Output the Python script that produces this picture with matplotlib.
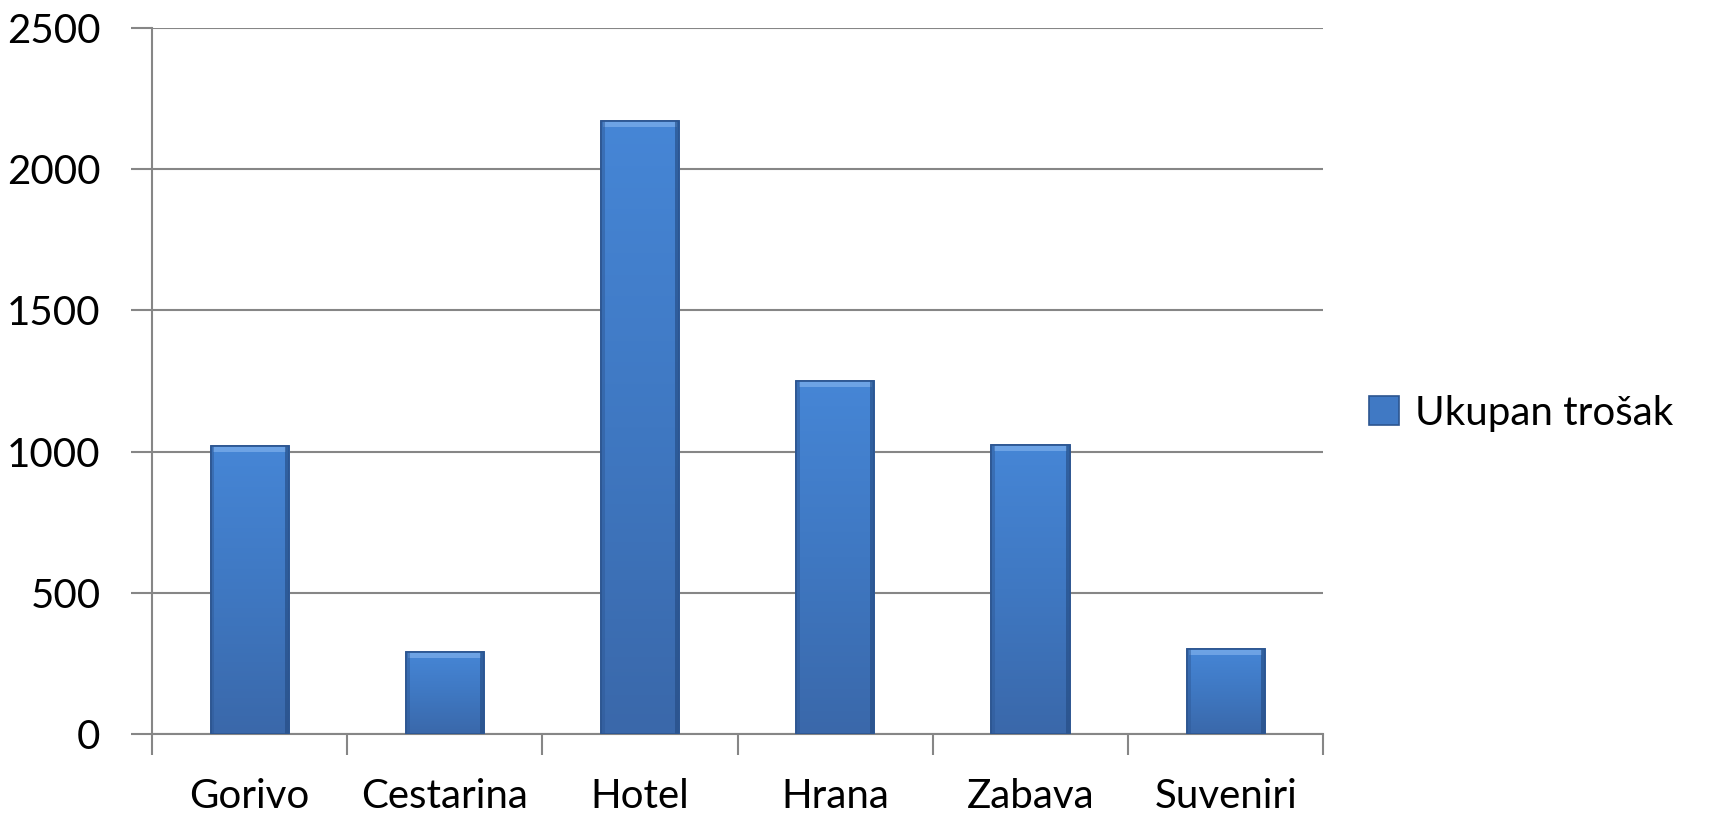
import numpy as np
import matplotlib.pyplot as plt
from matplotlib.colors import LinearSegmentedColormap
from matplotlib.patches import Patch

categories = ['Gorivo', 'Cestarina', 'Hotel', 'Hrana', 'Zabava', 'Suveniri']
values = [1020, 290, 2170, 1250, 1025, 300]
series_name = 'Ukupan trošak'

plt.rcParams['font.family'] = ['Lato', 'DejaVu Sans']

fig = plt.figure(figsize=(17.15, 8.18), dpi=100)
ax = fig.add_axes([0.0886, 0.1027, 0.683, 0.8631])

x = np.arange(len(categories))
bars = ax.bar(x, values, width=0.4, color='#4079c4', edgecolor='#2c5590',
              linewidth=1.2, zorder=3)

# vertical gradient + bevel on each bar
grad = LinearSegmentedColormap.from_list('g', ['#3a68aa', '#3f78c2', '#4686d6'])
for b in bars:
    x0, y0 = b.get_x(), b.get_y()
    w, h = b.get_width(), b.get_height()
    im = ax.imshow(np.linspace(0, 1, 256).reshape(-1, 1), cmap=grad,
                   extent=[x0, x0 + w, y0, y0 + h], origin='lower',
                   aspect='auto', zorder=3.1)
    im.set_clip_path(b)
    ax.fill_between([x0 + w * 0.03, x0 + w * 0.97], y0 + h - 22, y0 + h - 4,
                    color='#7fb0ec', alpha=0.7, lw=0, zorder=3.2)
    ax.fill_between([x0, x0 + w * 0.05], y0, y0 + h,
                    color='#2f5a98', alpha=0.5, lw=0, zorder=3.2)
    ax.fill_between([x0 + w * 0.95, x0 + w], y0, y0 + h,
                    color='#23497f', alpha=0.6, lw=0, zorder=3.2)
    ax.add_patch(plt.Rectangle((x0, y0), w, h, fill=False,
                               edgecolor='#2c5590', lw=1.2, zorder=3.3))

ax.set_xlim(-0.5, len(categories) - 0.5)
ax.set_ylim(0, 2500)
ax.set_yticks(range(0, 2501, 500))
ax.set_xticks(x)
ax.set_xticklabels(categories)
ax.set_xticks(np.arange(-0.5, len(categories)), minor=True)

ax.grid(axis='y', color='#868686', lw=1.5, zorder=0)
for s in ['top', 'right']:
    ax.spines[s].set_visible(False)
for s in ['left', 'bottom']:
    ax.spines[s].set_color('#868686')
    ax.spines[s].set_linewidth(1.5)

ax.tick_params(axis='x', which='major', length=0, pad=32, labelsize=29)
ax.tick_params(axis='x', which='minor', length=15, width=1.5, color='#868686')
ax.tick_params(axis='y', length=15, width=1.5, color='#868686', pad=22,
               labelsize=29)

handle = Patch(facecolor='#4079c4', edgecolor='#2c5590', lw=1.2)
fig.legend([handle], [series_name], loc='center left',
           bbox_to_anchor=(0.798, 0.495), frameon=False, fontsize=29,
           handlelength=0.75, handleheight=0.75, handletextpad=0.4,
           borderpad=0, borderaxespad=0)

fig.savefig('out.png', dpi=100)
